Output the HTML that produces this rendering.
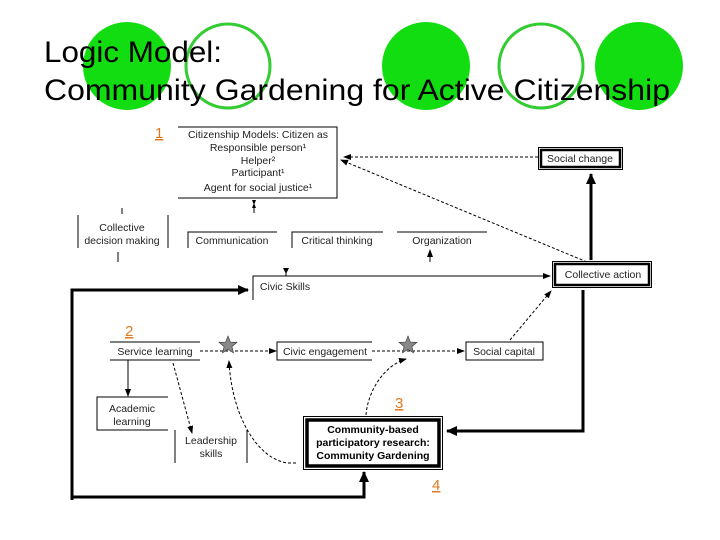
<!DOCTYPE html>
<html><head><meta charset="utf-8"><style>
body{margin:0;background:#fff}
svg{display:block}
text{font-family:"Liberation Sans",sans-serif}
.s{font-size:10.5px;fill:#222}
.o{font-size:15px;fill:#e07a20;text-decoration:underline}
</style></head><body>
<svg width="720" height="540" viewBox="0 0 720 540">
<defs>
<marker id="a" markerWidth="8" markerHeight="8" refX="7" refY="4" orient="auto" markerUnits="userSpaceOnUse"><path d="M0,1 L8,4 L0,7z" fill="#000"/></marker>
<marker id="b" markerWidth="12" markerHeight="12" refX="10" refY="6" orient="auto" markerUnits="userSpaceOnUse"><path d="M0,1 L11,6 L0,11z" fill="#000"/></marker>
</defs>
<ellipse cx="127" cy="66" rx="44" ry="44" fill="#11dd11"/>
<ellipse cx="228" cy="66" rx="42" ry="42" fill="none" stroke="#33cc33" stroke-width="3"/>
<ellipse cx="426" cy="66" rx="44" ry="44" fill="#11dd11"/>
<ellipse cx="541" cy="66" rx="42" ry="42" fill="none" stroke="#33cc33" stroke-width="3"/>
<ellipse cx="639" cy="66" rx="44" ry="44" fill="#11dd11"/>
<text x="44" y="62" font-size="30" textLength="178" lengthAdjust="spacingAndGlyphs">Logic Model:</text>
<text x="44" y="100" font-size="30" textLength="626" lengthAdjust="spacingAndGlyphs">Community Gardening for Active Citizenship</text>

<g stroke="#000" fill="none" stroke-width="1">
<path d="M178,127 H337 V198 H178"/>
<path d="M78,215 V248 M168,215 V248 M122,208 V214 M118,252 V262"/>
<path d="M188,248 V232 H277 M292,248 V232 H383 M397,232 H487"/>
<path d="M253,300 V276 H550" marker-end="url(#a)"/>
<path d="M430,262 V250" marker-end="url(#a)"/>
<path d="M286,268 V276"/>
<path d="M254,203 V213"/>
<path d="M110,342 H200 M110,360 H200"/>
<path d="M372,342 H277 V360 H372"/>
<path d="M466,342 H543 V360 H466z"/>
<path d="M168,397 H97 V430 H168"/>
<path d="M175,430 V463 M247,430 V463"/>
<path d="M128,360 V396" marker-end="url(#a)"/>
</g>
<path d="M252,200 L254,205 L256,200z M252,208 L254,203 L256,208z" fill="#000"/>
<path d="M283,268 L286,274 L289,268z" fill="#000"/>
<g stroke="#000" fill="none" stroke-width="1" stroke-dasharray="3,2">
<path d="M538,157 H344" marker-end="url(#a)"/>
<path d="M587,262 L341,160" marker-end="url(#a)"/>
<path d="M200,351 H276" marker-end="url(#a)"/>
<path d="M372,351 H464" marker-end="url(#a)"/>
<path d="M510,340 L551,291" marker-end="url(#a)"/>
<path d="M173,363 L192,433" marker-end="url(#a)"/>
<path d="M296,463 H288 C260,460 232,420 229,361" marker-end="url(#a)"/>
<path d="M366,415 C368,390 385,365 406,359" marker-end="url(#a)"/>
</g>
<g stroke="#000" fill="none" stroke-width="3">
<path d="M72,500 V290 H248" marker-end="url(#b)"/>
<path d="M72,497 H364 V472" marker-end="url(#b)"/>
<path d="M583,290 V431 H447" marker-end="url(#b)"/>
<path d="M591,260 V174" marker-end="url(#b)"/>
</g>
<rect x="538.5" y="147.5" width="84" height="22" fill="#fff" stroke="#000"/>
<rect x="541" y="150" width="79" height="17" fill="none" stroke="#000" stroke-width="2.5"/>
<rect x="552.5" y="261.5" width="99" height="26" fill="#fff" stroke="#000"/>
<rect x="555" y="264" width="94" height="21" fill="none" stroke="#000" stroke-width="2.5"/>
<rect x="303.5" y="416.5" width="139" height="53" fill="#fff" stroke="#000"/>
<rect x="307" y="420" width="132" height="46" fill="none" stroke="#000" stroke-width="3.5"/>
<g fill="#888" stroke="#333" stroke-width="0.6">
<path d="M228,336 l2.4,6 6.5,.4 -5,4.2 1.6,6.3 -5.5,-3.5 -5.5,3.5 1.6,-6.3 -5,-4.2 6.5,-.4z"/>
<path d="M408,336 l2.4,6 6.5,.4 -5,4.2 1.6,6.3 -5.5,-3.5 -5.5,3.5 1.6,-6.3 -5,-4.2 6.5,-.4z"/>
</g>
<g class="s" text-anchor="middle">
<text x="258" y="138">Citizenship Models: Citizen as</text>
<text x="258" y="151">Responsible person¹</text>
<text x="258" y="164">Helper²</text>
<text x="258" y="176">Participant¹</text>
<text x="258" y="191">Agent for social justice¹</text>
<text x="580" y="162">Social change</text>
<text x="122" y="231">Collective</text>
<text x="122" y="244">decision making</text>
<text x="232" y="244">Communication</text>
<text x="337" y="244">Critical thinking</text>
<text x="442" y="244">Organization</text>
<text x="285" y="290">Civic Skills</text>
<text x="603" y="278">Collective action</text>
<text x="155" y="355">Service learning</text>
<text x="325" y="355">Civic engagement</text>
<text x="504" y="355">Social capital</text>
<text x="132" y="412">Academic</text>
<text x="132" y="425">learning</text>
<text x="211" y="444">Leadership</text>
<text x="211" y="457">skills</text>
</g>
<g text-anchor="middle" font-size="10.5" font-weight="bold">
<text x="373" y="433">Community-based</text>
<text x="373" y="446">participatory research:</text>
<text x="373" y="459">Community Gardening</text>
</g>
<text class="o" x="155" y="138">1</text>
<text class="o" x="125" y="336">2</text>
<text class="o" x="395" y="408">3</text>
<text class="o" x="432" y="490">4</text>
</svg>
</body></html>
